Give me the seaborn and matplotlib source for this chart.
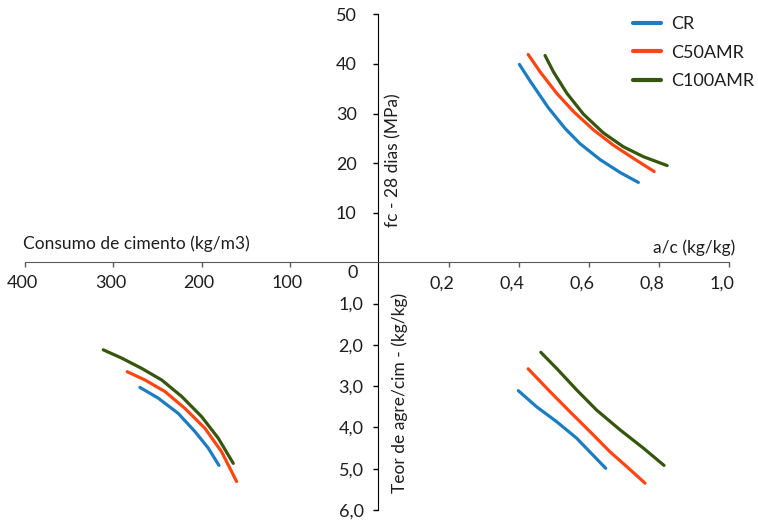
import matplotlib
matplotlib.use("Agg")
import matplotlib.pyplot as plt
import matplotlib.transforms as mtransforms
import pandas as pd
import seaborn as sns

# ---------------- data ----------------
series = ["CR", "C50AMR", "C100AMR"]
colors = ["#1c7dc2", "#ff4512", "#36560e"]

# Quadrant I : fc (MPa) vs a/c
ac_q1_cr = [0.402, 0.432, 0.484, 0.532, 0.575, 0.632, 0.689, 0.741]
fc_q1_cr = [39.9, 36.6, 31.2, 27.0, 23.9, 20.7, 18.1, 16.1]
ac_q1_c50 = [0.427, 0.461, 0.508, 0.556, 0.613, 0.670, 0.726, 0.786]
fc_q1_c50 = [41.9, 38.4, 34.1, 30.4, 26.7, 23.6, 21.0, 18.3]
ac_q1_c100 = [0.475, 0.499, 0.537, 0.584, 0.641, 0.698, 0.755, 0.823]
fc_q1_c100 = [41.7, 38.4, 34.1, 29.9, 26.1, 23.3, 21.3, 19.5]

# Quadrant IV : m (agregado/cimento) vs a/c
ac_q4_cr = [0.399, 0.451, 0.508, 0.565, 0.648]
m_q4_cr = [3.11, 3.50, 3.86, 4.26, 4.99]
ac_q4_c50 = [0.427, 0.489, 0.546, 0.603, 0.660, 0.708, 0.760]
m_q4_c50 = [2.58, 3.13, 3.62, 4.10, 4.59, 4.95, 5.35]
ac_q4_c100 = [0.463, 0.508, 0.565, 0.622, 0.689, 0.755, 0.814]
m_q4_c100 = [2.18, 2.57, 3.09, 3.58, 4.06, 4.50, 4.92]

# Quadrant III : m vs consumo de cimento (kg/m3)
c_q3_cr = [269.9, 249.2, 226.5, 207.6, 192.5, 180.4]
m_q3_cr = [3.03, 3.29, 3.66, 4.10, 4.50, 4.92]
c_q3_c50 = [284.3, 264.2, 241.6, 218.9, 196.3, 177.4, 160.4]
m_q3_c50 = [2.65, 2.85, 3.13, 3.54, 4.02, 4.59, 5.31]
c_q3_c100 = [311.4, 290.6, 267.9, 245.3, 222.6, 200.0, 181.2, 164.2]
m_q3_c100 = [2.12, 2.32, 2.57, 2.85, 3.25, 3.74, 4.26, 4.87]

ac_ticks = [0.2, 0.4, 0.6, 0.8, 1.0]
ac_labels = ["0,2", "0,4", "0,6", "0,8", "1,0"]
fc_ticks = [10, 20, 30, 40, 50]
fc_labels = ["10", "20", "30", "40", "50"]
m_ticks = [1, 2, 3, 4, 5, 6]
m_labels = ["1,0", "2,0", "3,0", "4,0", "5,0", "6,0"]
c_ticks = [400, 300, 200, 100]
c_labels = ["400", "300", "200", "100"]


def frame(xs, ys, xname, yname):
    parts = []
    for s, x, y in zip(series, xs, ys):
        parts.append(pd.DataFrame({xname: x, yname: y, "serie": s}))
    return pd.concat(parts, ignore_index=True)


df1 = frame([ac_q1_cr, ac_q1_c50, ac_q1_c100], [fc_q1_cr, fc_q1_c50, fc_q1_c100], "ac", "fc")
df4 = frame([ac_q4_cr, ac_q4_c50, ac_q4_c100], [m_q4_cr, m_q4_c50, m_q4_c100], "ac", "m")
df3 = frame([c_q3_cr, c_q3_c50, c_q3_c100], [m_q3_cr, m_q3_c50, m_q3_c100], "c", "m")

# ---------------- style ----------------
sns.set_style("white")
plt.rcParams["font.family"] = ["Lato", "DejaVu Sans"]
txt = "#1e1e1e"
hcol = "#5a5a5a"
W, H = 758, 525
fig = plt.figure(figsize=(W / 100, H / 100), dpi=100)

ox, oy = 378.3, 262.3   # origin in px
xr, yt, yb, xl = 729.3, 14.3, 510.0, 25.0


def rect(x0, x1, y0, y1):
    return [x0 / W, 1 - y1 / H, (x1 - x0) / W, (y1 - y0) / H]


ax1 = fig.add_axes(rect(ox, xr, yt, oy))
ax4 = fig.add_axes(rect(ox, xr, oy, yb))
ax2 = fig.add_axes(rect(xl, ox, yt, oy))
ax3 = fig.add_axes(rect(xl, ox, oy, yb))
for a in (ax1, ax2, ax3, ax4):
    a.patch.set_alpha(0)
    for sp in a.spines.values():
        sp.set_visible(False)

pal = dict(zip(series, colors))
lw = 2.3
kw = dict(hue="serie", palette=pal, sort=False, estimator=None, lw=lw, legend=False)
sns.lineplot(data=df1, x="ac", y="fc", ax=ax1, **kw)
sns.lineplot(data=df4, x="ac", y="m", ax=ax4, **kw)
sns.lineplot(data=df3, x="c", y="m", ax=ax3, **kw)
for a in (ax1, ax3, ax4):
    for ln in a.get_lines():
        ln.set_solid_capstyle("round")
        ln.set_solid_joinstyle("round")

# Quadrant I axes
ax1.set_xlim(0, 1.0)
ax1.set_ylim(0, 50)
ax1.spines["left"].set_visible(True)
ax1.spines["left"].set_color("black")
ax1.spines["bottom"].set_visible(True)
ax1.spines["bottom"].set_color(hcol)
ax1.set_xticks(ac_ticks)
ax1.set_xticklabels(ac_labels)
ax1.set_yticks(fc_ticks)
ax1.set_yticklabels(fc_labels)
ax1.tick_params(axis="x", direction="out", length=3.5, width=1, color=hcol,
                pad=6, labelsize=13, labelcolor=txt, bottom=True)
ax1.tick_params(axis="y", direction="out", length=3.6, width=1, color="black",
                pad=12, labelsize=13, labelcolor=txt, left=True)
off = mtransforms.ScaledTranslation(-7 / 100, 0, fig.dpi_scale_trans)
for lbl in ax1.get_xticklabels():
    lbl.set_transform(lbl.get_transform() + off)
ax1.set_xlabel("")
ax1.set_ylabel("")

# Quadrant IV axes
ax4.set_xlim(0, 1.0)
ax4.set_ylim(6, 0)
ax4.spines["left"].set_visible(True)
ax4.spines["left"].set_color("black")
ax4.set_xticks([])
ax4.set_yticks(m_ticks)
ax4.set_yticklabels(m_labels)
ax4.tick_params(axis="y", direction="out", length=3.6, width=1, color="black",
                pad=7, labelsize=13, labelcolor=txt, left=True)
ax4.set_xlabel("")
ax4.set_ylabel("")

# Quadrant II axes (left horizontal axis)
ax2.set_xlim(400, 0)
ax2.set_ylim(0, 50)
ax2.spines["bottom"].set_visible(True)
ax2.spines["bottom"].set_color(hcol)
ax2.set_xticks(c_ticks)
ax2.set_xticklabels(c_labels)
ax2.set_yticks([])
ax2.tick_params(axis="x", direction="out", length=3.5, width=1, color=hcol,
                pad=6, labelsize=13, labelcolor=txt, bottom=True)
off2 = mtransforms.ScaledTranslation(-3 / 100, 0, fig.dpi_scale_trans)
for lbl in ax2.get_xticklabels():
    lbl.set_transform(lbl.get_transform() + off2)

# Quadrant III axes
ax3.set_xlim(400, 0)
ax3.set_ylim(6, 0)
ax3.set_xticks([])
ax3.set_yticks([])
ax3.set_xlabel("")
ax3.set_ylabel("")

# Texts
fig.text(353 / W, 1 - 272.5 / H, "0", ha="center", va="center", fontsize=13, color=txt)
fig.text(23 / W, 1 - 244 / H, "Consumo de cimento (kg/m3)", ha="left", va="center",
         fontsize=12.5, color=txt)
fig.text(735 / W, 1 - 248 / H, "a/c (kg/kg)", ha="right", va="center",
         fontsize=12.5, color=txt)
fig.text(393.3 / W, 1 - 160 / H, "fc - 28 dias (MPa)", ha="center", va="center",
         rotation=90, fontsize=12.5, color=txt)
fig.text(400 / W, 1 - 392.5 / H, "Teor de agre/cim - (kg/kg)", ha="center", va="center",
         rotation=90, fontsize=12.5, color=txt)

# Legend
handles = [plt.Line2D([], [], color=c, lw=3) for c in colors]
fig.legend(handles, series, loc="upper left", bbox_to_anchor=(633 / W, 1 - 16 / H),
           frameon=False, fontsize=13, handlelength=1.55, handletextpad=0.55,
           labelspacing=0.7, borderpad=0, borderaxespad=0, labelcolor=txt)

fig.savefig("out.png", dpi=100)
